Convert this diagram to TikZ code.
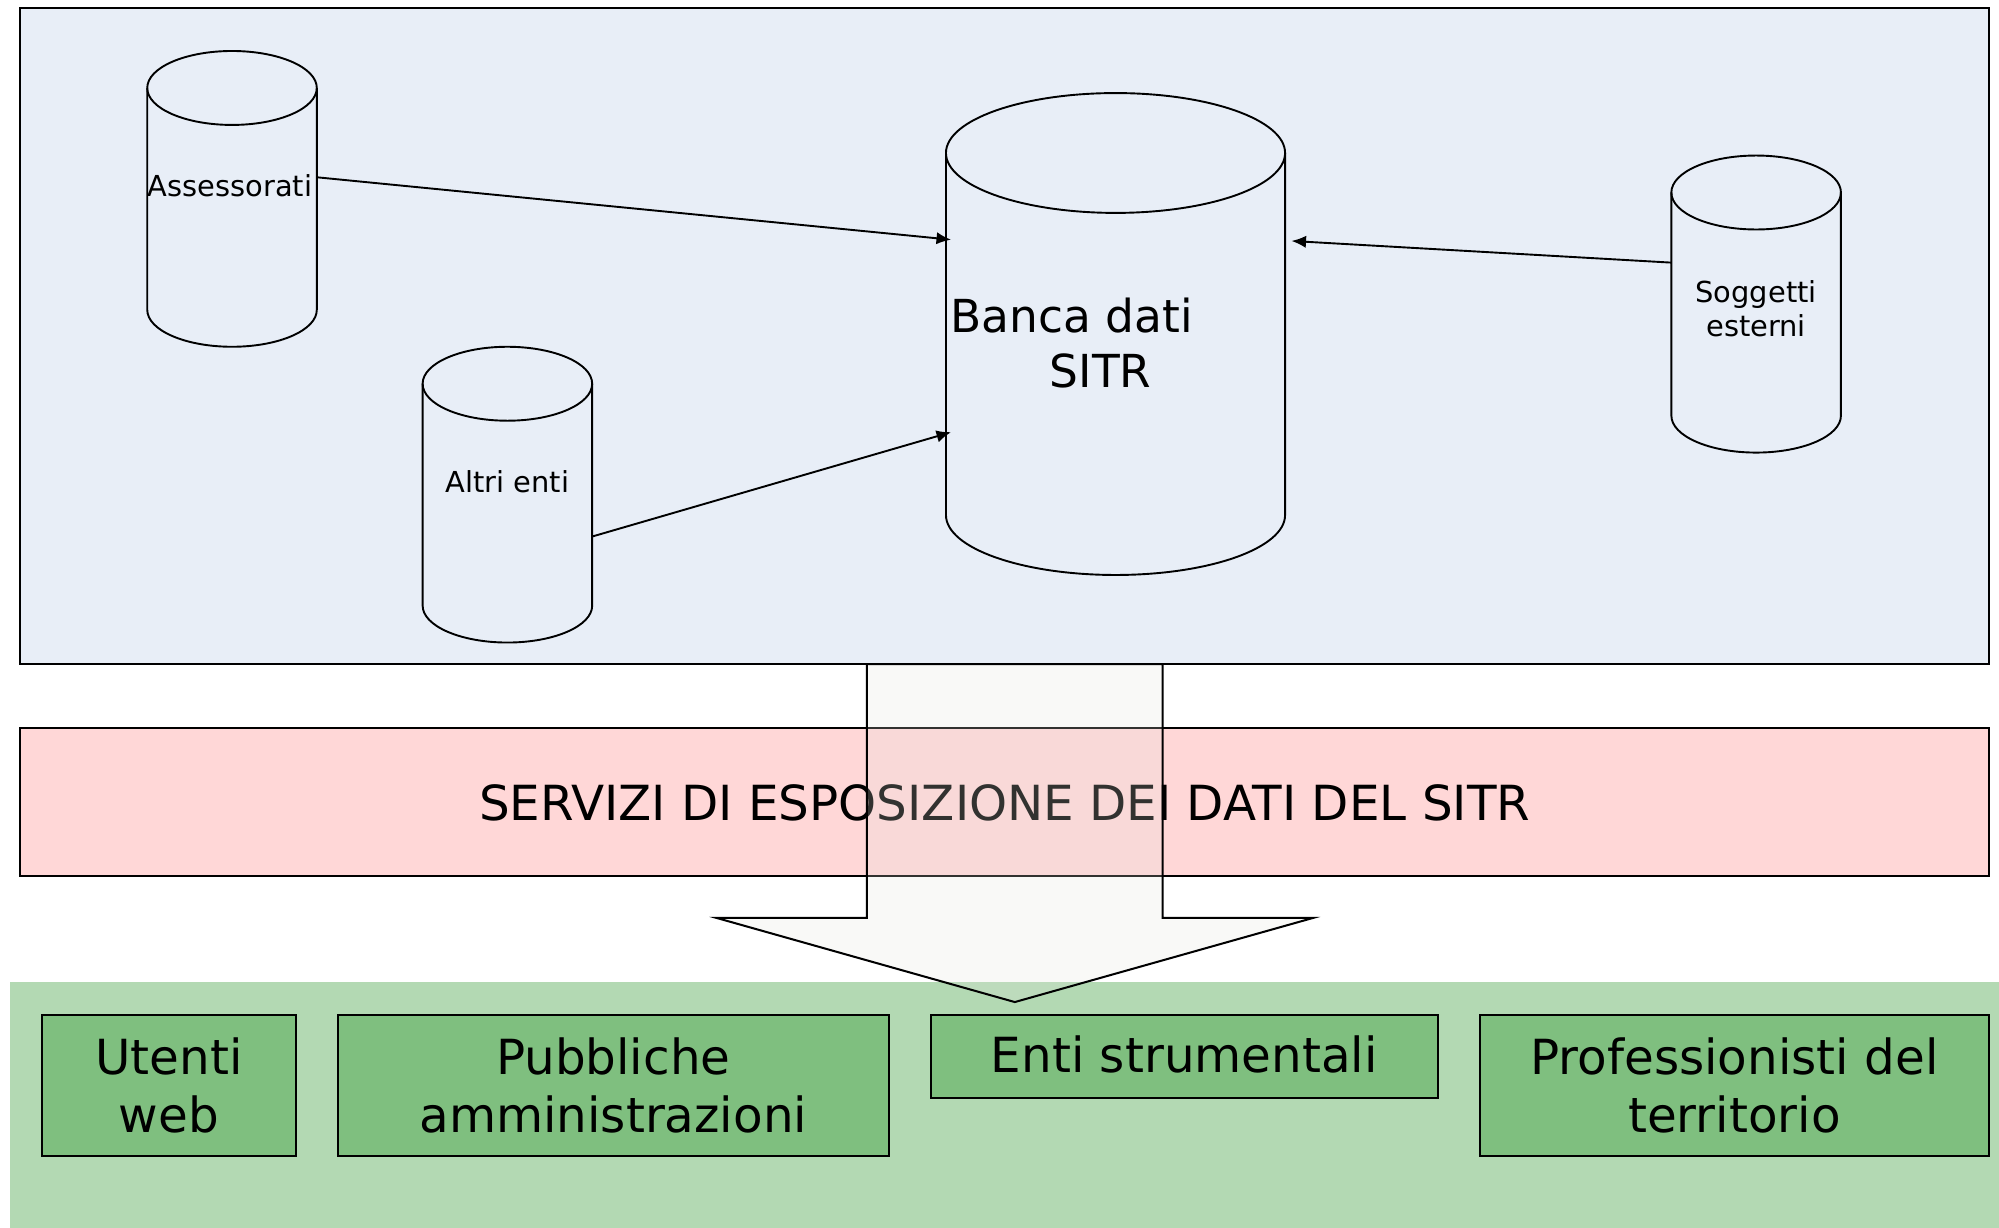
\documentclass[tikz,border=0pt]{standalone}
\usepackage{fontspec}
\setmainfont{DejaVu Sans}
\usetikzlibrary{arrows.meta,fit}
\definecolor{srcblue}{HTML}{E8EEF7}
\definecolor{servpink}{HTML}{FFD7D7}
\definecolor{usergreen}{HTML}{B3D9B3}
\definecolor{boxgreen}{HTML}{7FBF7F}
\definecolor{arrowfill}{RGB}{228,228,220}
\newcommand\mycyl[5]{% cx, rx, ytop, ybottom, ry  (y negative)
  \path[cylstyle] (#1-#2,#3) -- (#1-#2,#4) arc[start angle=180,end angle=360,x radius=#2,y radius=#5]
    -- (#1+#2,#3) arc[start angle=0,end angle=180,x radius=#2,y radius=#5] -- cycle;
  \draw[thinline] (#1-#2,#3) arc[start angle=180,end angle=360,x radius=#2,y radius=#5];
}
\begin{document}
\begin{tikzpicture}[x=0.02cm,y=0.02cm,
  thinline/.style={line width=0.85pt,draw=black},
  cylstyle/.style={thinline,fill=srcblue},
  panel/.style={thinline,inner sep=0pt},
  gbox/.style={thinline,fill=boxgreen,inner sep=0pt},
  bigtxt/.style={inner sep=0pt,align=center,font=\fontsize{21.6}{26}\selectfont},
  smalltxt/.style={font=\fontsize{12.9}{15.3}\selectfont,align=center,inner sep=0pt},
  conn/.style={thinline,-{Latex[length=6.5pt,width=5.5pt]}},
  bigarrow/.style={line width=0.9pt,draw=black,fill=arrowfill,fill opacity=0.22}]
\useasboundingbox (0,0) rectangle (1568,-963);
% source panel
\node[panel,fill=srcblue,fit={(16,-6) (1560,-521)}] (src) {};
% cylinders
\mycyl{182}{66.5}{-69}{-243}{29}
\mycyl{398}{66.5}{-301}{-475}{29}
\mycyl{875}{133}{-120}{-404}{47}
\mycyl{1377.5}{66.5}{-151}{-326}{29}
\node[smalltxt] (assess) at (180.5,-146) {Assessorati};
\node[smalltxt] (altri) at (398,-378) {Altri enti};
\node[smalltxt] (sogg) at (1377.5,-242) {Soggetti\\esterni};
\node[anchor=west,align=left,inner sep=0pt,font=\fontsize{20.3}{24.4}\selectfont] (banca) at (745,-269) {Banca dati\\\hspace*{44.5pt}SITR};
% connector endpoints
\coordinate (assessR) at (248,-139);
\coordinate (altriR) at (464,-421);
\coordinate (soggL) at (1311,-206);
\coordinate (bancaA) at (746,-188);
\coordinate (bancaB) at (746,-339);
\coordinate (bancaC) at (1013,-189);
\draw[conn] (assessR) -- (bancaA);
\draw[conn] (altriR) -- (bancaB);
\draw[conn] (soggL) -- (bancaC);
% services band
\node[panel,fill=servpink,fit={(16,-571) (1560,-687)}] (serv) {};
\node[bigtxt] (servtxt) at (788,-630) {SERVIZI DI ESPOSIZIONE DEI DATI DEL SITR};
% users area
\node[inner sep=0pt,fill=usergreen,fit={(8,-770) (1568,-963)}] (users) {};
\node[gbox,fit={(33,-796) (232,-907)}] (utenti) {};
\node[gbox,fit={(265,-796) (697,-907)}] (pa) {};
\node[gbox,fit={(730,-796) (1128,-861)}] (enti) {};
\node[gbox,fit={(1161,-796) (1560,-907)}] (prof) {};
\node[bigtxt] (utentitxt) at (utenti.center) {Utenti\\web};
\node[bigtxt] (patxt) at (pa.center) {Pubbliche\\amministrazioni};
\node[bigtxt] (entitxt) at ([yshift=1]enti.center) {Enti strumentali};
\node[bigtxt] (proftxt) at (prof.center) {Professionisti del\\territorio};
% big arrow
\path[bigarrow] (680,-521) -- (680,-720) -- (562,-720) -- (796,-786) -- (1030,-720) -- (912,-720) -- (912,-521) -- cycle;
\end{tikzpicture}
\end{document}
